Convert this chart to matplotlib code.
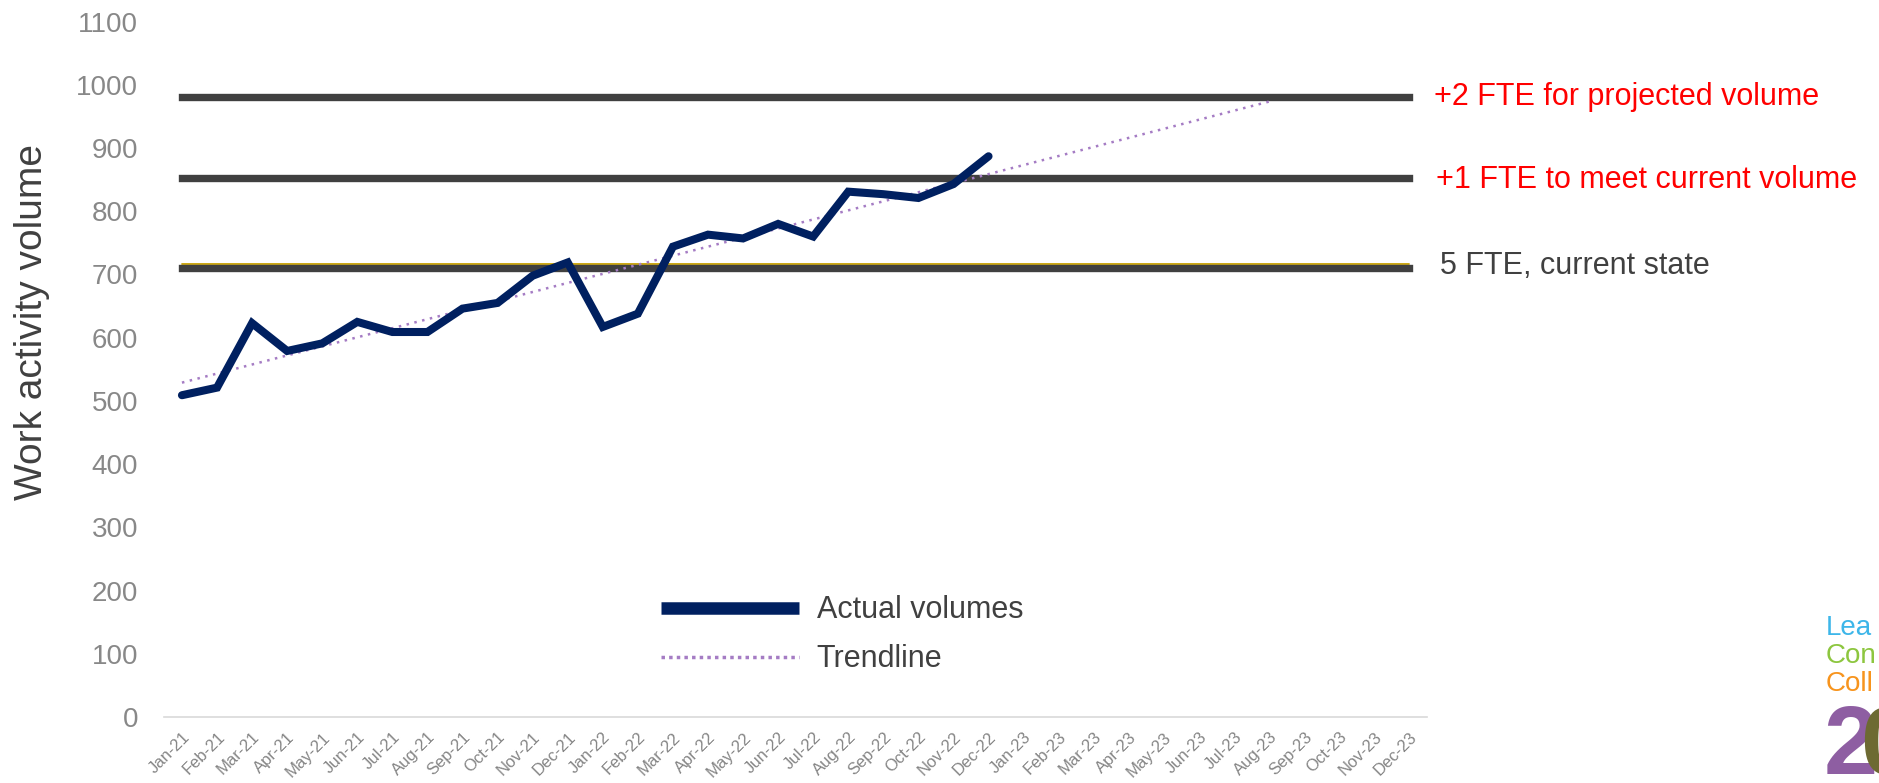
import numpy as np
import matplotlib.pyplot as plt
from matplotlib.lines import Line2D

plt.rcParams['font.family'] = ['Liberation Sans', 'DejaVu Sans']

# Data
months = ['Jan-21', 'Feb-21', 'Mar-21', 'Apr-21', 'May-21', 'Jun-21', 'Jul-21', 'Aug-21',
          'Sep-21', 'Oct-21', 'Nov-21', 'Dec-21', 'Jan-22', 'Feb-22', 'Mar-22', 'Apr-22',
          'May-22', 'Jun-22', 'Jul-22', 'Aug-22', 'Sep-22', 'Oct-22', 'Nov-22', 'Dec-22',
          'Jan-23', 'Feb-23', 'Mar-23', 'Apr-23', 'May-23', 'Jun-23', 'Jul-23', 'Aug-23',
          'Sep-23', 'Oct-23', 'Nov-23', 'Dec-23']
actual = [509, 521, 623, 579, 591, 625, 609, 609, 646, 655, 698, 719,
          617, 638, 744, 763, 757, 780, 760, 831, 827, 821, 843, 887]
trend_months = 32  # trendline runs through Aug-23
fte_levels = [981, 852, 711]
fte_labels = ['+2 FTE for projected volume', '+1 FTE to meet current volume', '5 FTE, current state']
fte_colors = ['#ff0000', '#ff0000', '#404040']
fte_under = [None, 852, 716]          # thin coloured series hidden under the grey lines
fte_under_colors = [None, '#ff0000', '#c8a000']
yticks = list(range(0, 1101, 100))

fig = plt.figure(figsize=(18.79, 7.83), dpi=100)
ax = fig.add_axes([0.0875, 0.0843, 0.6719, 0.8881])
ax.set_xlim(-0.5, len(months) - 0.5)
ax.set_ylim(0, 1100)
ax.set_xticks(range(len(months)))
ax.set_xticklabels(months, rotation=45, ha='right', va='top', rotation_mode='anchor',
                   fontsize=12, color='#858585')
ax.set_yticks(yticks)
ax.set_yticklabels([str(v) for v in yticks], fontsize=20, color='#888888')
ax.tick_params(length=0)
ax.tick_params(axis='x', pad=9)
ax.tick_params(axis='y', pad=19)
for s in ['top', 'right', 'left']:
    ax.spines[s].set_visible(False)
ax.spines['bottom'].set_color('#d9d9d9')
ax.spines['bottom'].set_linewidth(1.2)
ax.set_ylabel('Work activity volume', fontsize=28, color='#404040')
ax.yaxis.set_label_coords(-0.0907, 0.568)

x_all = np.arange(len(months))
for lvl, ucol in zip(fte_under, fte_under_colors):
    if lvl is not None:
        ax.plot(x_all, [lvl] * len(months), color=ucol, lw=1.3, solid_capstyle='round', clip_on=False)
for lvl in fte_levels:
    ax.plot(x_all, [lvl] * len(months), color='#404040', lw=5.3, solid_capstyle='projecting',
            clip_on=False)

x_act = np.arange(len(actual))
coef = np.polyfit(x_act, actual, 1)
x_tr = np.arange(trend_months)
ax.plot(x_tr, np.polyval(coef, x_tr), color='#a57cc4', lw=1.8, ls=(0, (1, 2.2)), clip_on=False)
ax.plot(x_act, actual, color='#002060', lw=5.8, solid_capstyle='round', solid_joinstyle='miter',
        clip_on=False)

offsets = [(25, 0), (27, -2), (31, 2)]
for lvl, lab, col, off in zip(fte_levels, fte_labels, fte_colors, offsets):
    ax.annotate(lab, xy=(len(months) - 1, lvl), xytext=off, textcoords='offset pixels',
                ha='left', va='center', fontsize=22, color=col, annotation_clip=False)

handles = [Line2D([], [], color='#002060', lw=9, solid_capstyle='butt'),
           Line2D([], [], color='#a57cc4', lw=2.5, ls=(0, (1, 1.2)))]
leg = fig.legend(handles, ['Actual volumes', 'Trendline'], loc='upper left',
                 bbox_to_anchor=(0.3518, 0.2395), frameon=False, fontsize=22,
                 handlelength=4.5, handletextpad=0.6, labelspacing=0.62, borderpad=0,
                 borderaxespad=0)
for t in leg.get_texts():
    t.set_color('#404040')

# logo fragment at bottom right
fig.text(1826 / 1879, 1 - 628 / 783, 'Lea', fontsize=20, color='#3db6e9', va='center', ha='left')
fig.text(1826 / 1879, 1 - 656 / 783, 'Con', fontsize=20, color='#8dc63f', va='center', ha='left')
fig.text(1826 / 1879, 1 - 684 / 783, 'Coll', fontsize=20, color='#f7941d', va='center', ha='left')
fig.text(1824 / 1879, 1 - 774 / 783, '2', fontsize=70, fontweight='bold', color='#8e5ea2',
         va='baseline', ha='left')
fig.text(1860 / 1879, 1 - 774 / 783, '0', fontsize=70, fontweight='bold', color='#6d6a32',
         va='baseline', ha='left')

fig.savefig('out.png', dpi=100)
